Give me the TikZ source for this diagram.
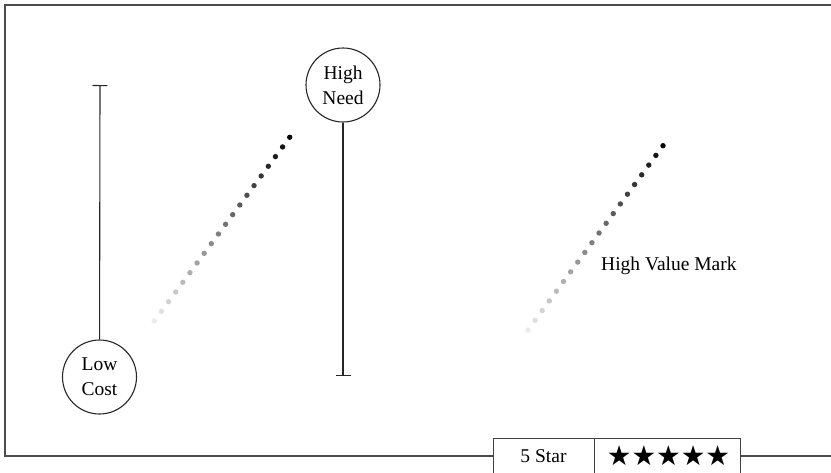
\documentclass[tikz,border=0pt]{standalone}
\usepackage{fontspec}
\setmainfont{Liberation Serif}
\newfontfamily\symfont{DejaVu Sans}
\usetikzlibrary{arrows.meta}
\tikzset{
  frameline/.style={draw=black!70, line width=1.6pt},
  circlabel/.style={circle, draw=black!85, line width=1.1pt, minimum size=74pt, inner sep=0pt, align=center, font=\fontsize{19.5}{25}\selectfont},
  stem/.style={draw=black!85, line width=1.1pt, -{Bar[width=15pt,line width=1.1pt]}},
  lbl/.style={font=\fontsize{19.5}{23}\selectfont, inner sep=0pt},
  boxline/.style={draw=black!75, line width=1pt}
}
\begin{document}
\begin{tikzpicture}[x=1pt,y=-1pt]
\useasboundingbox (0,0) rectangle (831,472);
% frame
\coordinate (ftr) at (832,5);
\coordinate (ftl) at (5,5);
\coordinate (fbl) at (5,456);
\coordinate (fbm) at (493,456);
\coordinate (fbr) at (740,456);
\coordinate (fbe) at (832,456);
\draw[frameline] (ftr) -- (ftl) -- (fbl) -- (fbm);
\draw[frameline] (fbr) -- (fbe);
% legend box
\node[boxline, draw, minimum width=101pt, minimum height=40pt, anchor=north west, inner sep=0pt] (starlbl) at (493,438) {};
\node[boxline, draw, minimum width=146pt, minimum height=40pt, anchor=north west, inner sep=0pt] (starbox) at (594,438) {};
\node[lbl] (startext) at (543.5,456) {5 Star};
\node[inner sep=0pt, font=\symfont\fontsize{27.5}{30}\selectfont] (stars) at (668.5,455.5) {★★★★★};
% circles
\node[circlabel] (lc) at (99.5,377) {Low\\Cost};
\node[circlabel] (hn) at (343,85) {High\\Need};
\coordinate (lctop) at (100,85);
\coordinate (hnbot) at (343,376);
\draw[stem] (lc) -- (lctop);
\draw[stem] (hn) -- (hnbot);
% dotted gradient lines
\foreach \i in {0,...,19}{
  \pgfmathsetmacro{\p}{8+\i*4.7}
  \fill[black!\p] ({154.3+\i*7.126},{321-\i*9.67}) circle (2.7pt);
  \fill[black!\p] ({528+\i*7.105},{330-\i*9.70}) circle (2.7pt);
}
\node[lbl, anchor=west] (hvm) at (601,266) {High Value Mark};
\end{tikzpicture}
\end{document}
